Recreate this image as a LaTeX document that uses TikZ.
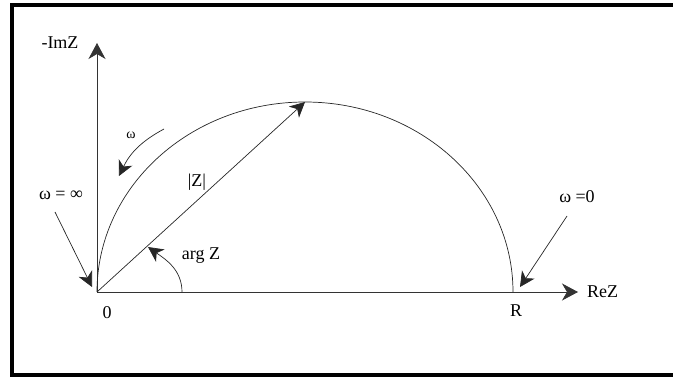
\documentclass[tikz,border=0pt]{standalone}
\usepackage{fontspec}
\setmainfont{Liberation Serif}
\usetikzlibrary{arrows.meta, positioning, calc}

\tikzset{
  axis/.style={draw=black!80, line width=0.8pt, -{Stealth[length=16pt,width=17pt,inset=5pt]}},
  pointer/.style={draw=black!85, line width=0.7pt, -{Stealth[length=15pt,width=15pt,inset=4.5pt]}},
  lbl/.style={font=\fontsize{18}{20}\selectfont, inner sep=1pt},
  small lbl/.style={font=\fontsize{14}{16}\selectfont, inner sep=1pt},
}

\begin{document}
\begin{tikzpicture}[x=1pt, y=1pt]
    \useasboundingbox (0,0) rectangle (673,378);

    % Cornice
    \draw[line width=4pt] (690,373) -- (11.5,373) -- (11.5,2.5) -- (690,2.5);

    \coordinate (O) at (97,86);
    \coordinate (R) at (513,86);
    \coordinate (T) at (305,276);
    \coordinate (Ytip) at (97,335);
    \coordinate (Xtip) at (578,86);

    % Assi
    \draw[axis] (O) -- (Ytip);
    \draw[axis] (O) -- (Xtip);
    \node[lbl] (imz) at (60,335) {-ImZ};
    \node[lbl, right=8pt of Xtip] (rez) {ReZ};
    \node[lbl] (zero) at (107,65) {0};
    \node[lbl] (rlab) at (516,67) {R};

    % Semicirconferenza
    \draw[black!85, line width=0.7pt] (O) arc[start angle=180, end angle=0, x radius=208, y radius=190];

    % Vettore |Z|
    \draw[pointer] (O) -- (T);
    \node[lbl] (modz) at (197,196) {|Z|};

    % Angolo arg Z
    \coordinate (A0) at (182,86);
    \coordinate (A1) at (148,131);
    \draw[pointer] (A0) to[out=90, in=-35] (A1);
    \node[lbl] (argz) at (201,122) {arg Z};

    % Verso di percorrenza
    \coordinate (W0) at (164,249);
    \coordinate (W1) at (119,202);
    \draw[pointer, bend right=18] (W0) to (W1);
    \node[small lbl] (wlab) at (131,243) {ω};

    % Frecce per omega = infinito e omega = 0
    \node[lbl] (winf) at (61,183) {ω = ∞};
    \coordinate (Winf0) at (55,166);
    \coordinate (Winf1) at (92,91);
    \draw[pointer] (Winf0) -- (Winf1);

    \node[lbl] (wzero) at (577,181) {ω =0};
    \coordinate (Wz0) at (567,162);
    \coordinate (Wz1) at (520,91);
    \draw[pointer] (Wz0) -- (Wz1);
\end{tikzpicture}
\end{document}
